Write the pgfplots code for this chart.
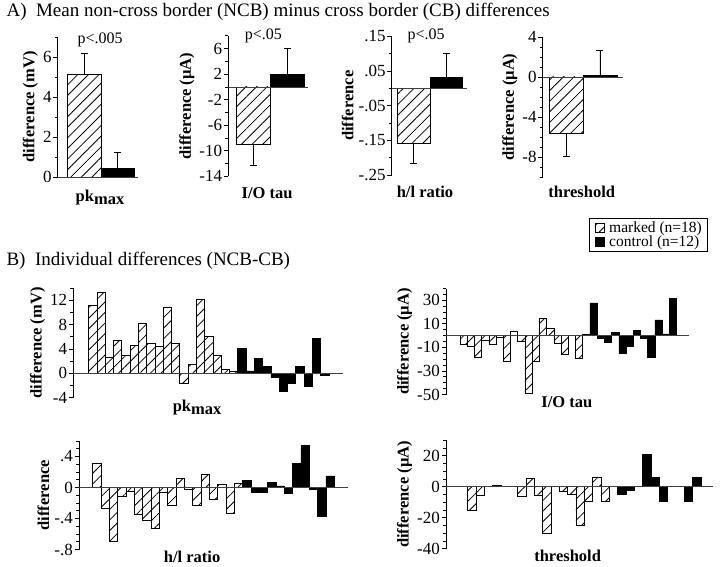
\documentclass[border=0pt]{standalone}
\usepackage{fontspec}
\setmainfont{Liberation Serif}
\usepackage{pgfplots}
\pgfplotsset{compat=1.18}
\usetikzlibrary{patterns.meta}

\tikzset{
  hatch/.style={draw=black, line width=0.7pt, pattern={Lines[angle=45,distance=7.5pt,line width=0.8pt]}, pattern color=black},
  solidbar/.style={draw=black, fill=black, line width=0.6pt},
  zl/.style={draw=black!75, line width=0.6pt},
  xl/.style={font=\bfseries\fontsize{16.5}{17}\selectfont, anchor=center},
  pv/.style={font=\fontsize{16}{17}\selectfont, anchor=center},
}
\newcommand{\lgf}{\fontsize{15.5}{16}\selectfont}
\pgfplotsset{
  panel/.style={
    scale only axis,
    anchor=north west,
    axis x line=none,
    axis y line=left,
    axis line style={-, line width=0.8pt},
    xtick=\empty,
    ytick align=outside,
    major tick length=4.5pt,
    minor tick length=3pt,
    every tick/.style={black, line width=0.7pt},
    yticklabel style={font=\fontsize{17}{18}\selectfont, inner sep=1.5pt},
    ylabel style={font=\bfseries\fontsize{16.5}{17}\selectfont},
    clip=false,
    ybar, bar shift=0pt, bar width=1,
    error bars/error mark=-,
    error bars/error bar style={draw=black, line width=0.6pt},
    error bars/error mark options={draw=black, rotate=90, mark size=3.5pt, line width=0.6pt},
  },
}

\begin{document}
\begin{tikzpicture}
\path (0pt,0pt) rectangle (720pt,-564pt);

\node[anchor=base west, font=\fontsize{19}{20}\selectfont] at (3pt,-16.5pt) {A)\ \ Mean non-cross border (NCB) minus cross border (CB) differences};
\node[anchor=base west, font=\fontsize{19}{20}\selectfont] at (3pt,-265pt) {B)\ \ Individual differences (NCB-CB)};

% ---------- A1 pk max
\begin{axis}[panel, at={(57.7pt,-36.7pt)}, width=80.3pt, height=140pt,
  xmin=-0.8, xmax=1.61, ymin=0, ymax=7,
  ytick={0,2,4,6}, yticklabels={0,2,4,6}, minor ytick={1,3,5,7},
  ylabel={difference (mV)}]
\addplot[hatch, error bars/.cd, y dir=plus, y explicit] coordinates {(0,5.13) +- (0,1.04)};
\addplot[solidbar, error bars/.cd, y dir=plus, y explicit] coordinates {(1,0.42) +- (0,0.80)};
\draw[zl] (axis cs:-0.8,0) -- (axis cs:1.61,0);
\node[xl] at (rel axis cs:0.527,-0.145) {pk\raisebox{-0.45ex}{max}};
\node[pv] at (rel axis cs:0.527,0.98) {p<.005};
\end{axis}

% ---------- A2 I/O tau
\begin{axis}[panel, at={(228.3pt,-35.6pt)}, width=79.7pt, height=140.4pt,
  xmin=-0.73, xmax=1.61, ymin=-14, ymax=8,
  ytick={-14,-10,-6,-2,2,6}, yticklabels={-14,-10,-6,-2,2,6}, minor ytick={-12,-8,-4,0,4,8},
  ylabel={difference (µA)}]
\addplot[hatch, error bars/.cd, y dir=minus, y explicit] coordinates {(0,-9.03) +- (0,3.27)};
\addplot[solidbar, error bars/.cd, y dir=plus, y explicit] coordinates {(1,2.0) +- (0,4.1)};
\draw[zl] (axis cs:-0.73,0) -- (axis cs:1.61,0);
\node[xl] at (rel axis cs:0.486,-0.121) {I/O tau};
\node[pv] at (rel axis cs:0.44,1.0) {p<.05};
\end{axis}

% ---------- A3 h/l ratio
\begin{axis}[panel, at={(391.7pt,-36pt)}, width=75pt, height=139pt,
  xmin=-0.67, xmax=1.62, ymin=-0.25, ymax=0.15,
  ytick={-0.25,-0.15,-0.05,0.05,0.15}, yticklabels={-.25,-.15,-.05,.05,.15}, minor ytick={-0.2,-0.1,0,0.1},
  ylabel={difference}]
\addplot[hatch, error bars/.cd, y dir=minus, y explicit] coordinates {(0,-0.158) +- (0,0.058)};
\addplot[solidbar, error bars/.cd, y dir=plus, y explicit] coordinates {(1,0.032) +- (0,0.07)};
\draw[zl] (axis cs:-0.67,0) -- (axis cs:1.62,0);
\node[xl] at (rel axis cs:0.444,-0.12) {h/l ratio};
\node[pv] at (rel axis cs:0.46,1.0) {p<.05};
\end{axis}

% ---------- A4 threshold
\begin{axis}[panel, at={(542.7pt,-36.7pt)}, width=80pt, height=140pt,
  xmin=-0.69, xmax=1.67, ymin=-10, ymax=4,
  ytick={-8,-4,0,4}, yticklabels={-8,-4,0,4}, minor ytick={-10,-9,-7,-6,-5,-3,-2,-1,1,2,3},
  ylabel={difference (µA)}]
\addplot[hatch, error bars/.cd, y dir=minus, y explicit] coordinates {(0,-5.67) +- (0,2.23)};
\addplot[solidbar, error bars/.cd, y dir=plus, y explicit] coordinates {(1,0.13) +- (0,2.54)};
\draw[zl] (axis cs:-0.69,0) -- (axis cs:1.67,0);
\node[xl] at (rel axis cs:0.4875,-0.107) {threshold};
\end{axis}

% ---------- B1 pk max individual
\begin{axis}[panel, at={(73.3pt,-288pt)}, width=269.7pt, height=109.4pt,
  xmin=-1.35, xmax=31.2, ymin=-4, ymax=14,
  ytick={-4,0,4,8,12}, yticklabels={-4,0,4,8,12}, minor ytick={-2,2,6,10,14},
  ylabel={difference (mV)}]
\addplot[hatch] coordinates {(1,11.2) (2,13.3) (3,2.6) (4,5.5) (5,3.0) (6,4.6) (7,8.3) (8,4.9) (9,4.5) (10,10.8) (11,5.0) (12,-1.7) (13,1.4) (14,12.2) (15,6.1) (16,3.0) (17,0.7) (18,0.3)};
\addplot[solidbar] coordinates {(19,4.1) (20,0.4) (21,2.5) (22,1.2) (23,-0.7) (24,-2.9) (25,-1.7) (26,1.2) (27,-2.2) (28,5.8) (29,-0.4) (30,0)};
\draw[zl] (axis cs:-1.35,0) -- (axis cs:31.2,0);
\node[xl] at (rel axis cs:0.459,-0.088) {pk\raisebox{-0.45ex}{max}};
\end{axis}

% ---------- B2 I/O tau individual
\begin{axis}[panel, at={(446pt,-288.3pt)}, width=243.3pt, height=106pt,
  xmin=-1.44, xmax=32.26, ymin=-50, ymax=40,
  ytick={-50,-30,-10,10,30}, yticklabels={-50,-30,-10,10,30}, minor ytick={-45,-40,-35,-25,-20,-15,-5,0,5,15,20,25,35,40},
  ylabel={difference (µA)},
  legend style={at={(axis description cs:1.078,1.663)}, anchor=north east, draw=black, line width=0.8pt,
    nodes={inner sep=1pt},
    inner xsep=5pt, inner ysep=2pt, row sep=0pt, cells={anchor=west},
    /tikz/every odd column/.append style={column sep=4pt}},
  legend image code/.code={\draw[#1] (0pt,-4.5pt) rectangle (9pt,4.5pt);}]
\addplot[hatch] coordinates {(1,-7) (2,-9) (3,-18.6) (4,-4.3) (5,-7) (6,-1.5) (7,-22) (8,3.7) (9,-4.9) (10,-49) (11,-22) (12,14.3) (13,6.3) (14,-6.3) (15,-15.7) (16,0) (17,-19) (18,1.5)};
\addlegendentry{\lgf marked (n=18)}
\addplot[solidbar] coordinates {(19,27.7) (20,-2) (21,-5.7) (22,2.9) (23,-14.9) (24,-9.1) (25,4.3) (26,-2) (27,-18.6) (28,13.4) (29,1.4) (30,31.4)};
\addlegendentry{\lgf control (n=12)}
\draw[zl] (axis cs:-1.44,0) -- (axis cs:32.26,0);
\node[xl] at (rel axis cs:0.497,-0.07) {I/O tau};
\end{axis}

% ---------- B3 h/l ratio individual
\begin{axis}[panel, at={(79pt,-440.7pt)}, width=269.3pt, height=108.6pt,
  xmin=-1.15, xmax=31.18, ymin=-0.8, ymax=0.6,
  ytick={-0.8,-0.4,0,0.4}, yticklabels={-.8,-.4,0,.4}, minor ytick={-0.7,-0.6,-0.5,-0.3,-0.2,-0.1,0.1,0.2,0.3,0.5,0.6},
  ylabel={difference}]
\addplot[hatch] coordinates {(1,0.31) (2,-0.27) (3,-0.69) (4,-0.11) (5,-0.05) (6,-0.35) (7,-0.42) (8,-0.53) (9,-0.06) (10,-0.23) (11,0.12) (12,-0.03) (13,-0.23) (14,0.17) (15,-0.15) (16,0.04) (17,-0.34) (18,0.05)};
\addplot[solidbar] coordinates {(19,0.09) (20,-0.06) (21,-0.06) (22,0.07) (23,0.02) (24,-0.07) (25,0.31) (26,0.54) (27,-0.02) (28,-0.37) (29,0.15) (30,0)};
\draw[zl] (axis cs:-1.15,0) -- (axis cs:31.18,0);
\node[xl] at (rel axis cs:0.42,-0.068) {h/l ratio};
\end{axis}

% ---------- B4 threshold individual
\begin{axis}[panel, at={(446pt,-440pt)}, width=267.3pt, height=108.5pt,
  xmin=-1.1, xmax=30.99, ymin=-40, ymax=30,
  ytick={-40,-20,0,20}, yticklabels={-40,-20,0,20}, minor ytick={-35,-30,-25,-15,-10,-5,5,10,15,25,30},
  ylabel={difference (µA)}]
\addplot[hatch] coordinates {(1,0) (2,-15.5) (3,-5.4) (4,0) (5,1.1) (6,0) (7,0) (8,-6) (9,5.6) (10,-5.4) (11,-30) (12,0) (13,-3.2) (14,-5.2) (15,-24.7) (16,-9.5) (17,6) (18,-9.5)};
\addplot[solidbar] coordinates {(19,0) (20,-4.7) (21,-2.6) (22,0) (23,21) (24,6) (25,-9.5) (26,0) (27,0) (28,-9.5) (29,6) (30,0)};
\draw[zl] (axis cs:-1.1,0) -- (axis cs:30.99,0);
\node[xl] at (rel axis cs:0.455,-0.065) {threshold};
\end{axis}
\end{tikzpicture}
\end{document}
